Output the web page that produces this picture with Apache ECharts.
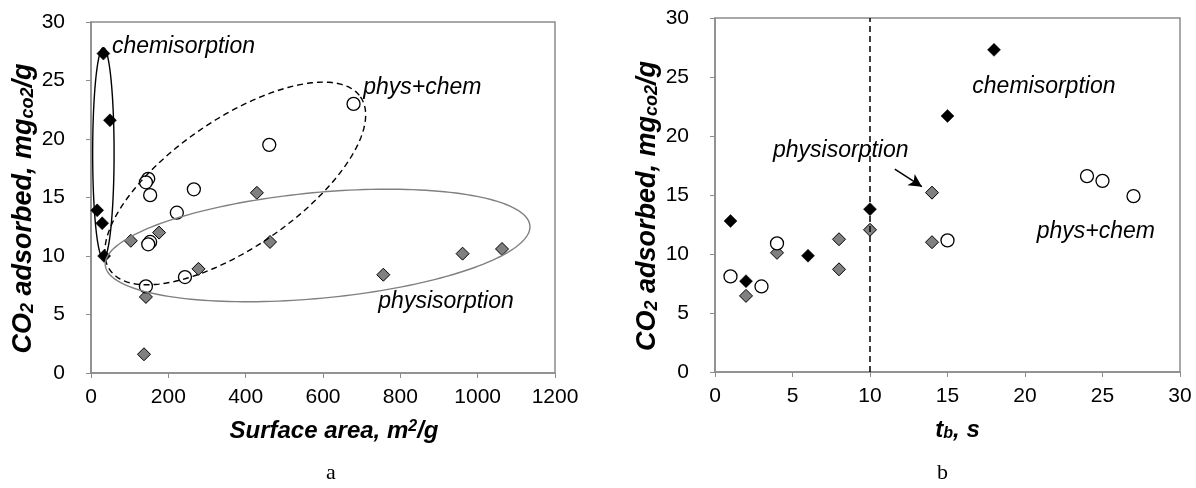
<!DOCTYPE html>
<html>
<head>
<meta charset="utf-8">
<script src="https://cdn.jsdelivr.net/npm/echarts@6/dist/echarts.min.js"></script>
<style>
  html, body { margin: 0; padding: 0; background: #fff; }
  #chart { width: 1196px; height: 488px; }
</style>
</head>
<body>
<div id="chart"></div>
<script>
// ---- Panel a: CO2 adsorbed vs surface area [m2/g, mg/g] ----
const areaChem = [[32, 27.3], [49, 21.6], [16, 13.9], [29, 12.8], [34, 10.0]];
const areaPhys = [[429, 15.4], [176, 12.0], [103, 11.3], [463, 11.2], [278, 8.9], [142, 6.5],
                  [137, 1.6], [756, 8.4], [961, 10.2], [1063, 10.6]];
const areaBoth = [[679, 23.0], [461, 19.5], [148, 16.6], [142, 16.3], [153, 15.2], [266, 15.7],
                  [222, 13.7], [153, 11.2], [148, 11.0], [243, 8.2], [142, 7.4]];

// ---- Panel b: CO2 adsorbed vs breakthrough time [s, mg/g] ----
const timeChem = [[1, 12.8], [2, 7.7], [6, 9.85], [10, 13.8], [15, 21.7], [18, 27.3]];
const timePhys = [[2, 6.45], [4, 10.1], [8, 11.25], [8, 8.7], [10, 12.05], [14, 15.2], [14, 11.0]];
const timeBoth = [[1, 8.1], [3, 7.25], [4, 10.9], [15, 11.15], [24, 16.6], [25, 16.2], [27, 14.9]];

// axis ranges
const yRange = { min: 0, max: 30, interval: 5 };
const areaRange = { min: 0, max: 1200, interval: 200 };
const timeRange = { min: 0, max: 30, interval: 5 };

// grouping outlines on panel a: centre and two conjugate semi-axes, in data units
const groupOutlines = [
  { c: [32, 18.8], u: [27.7, 0], v: [0, 9.0], color: '#000000', dash: null },
  { c: [373, 16.2], u: [324, 7.4], v: [94, -4.5], color: '#000000', dash: [6, 4] },
  { c: [586, 10.9], u: [549, 1.7], v: [13, -4.5], color: '#808080', dash: null }
];

// text labels: [x, y, text] in data units (left edge, vertical middle)
const areaNotes = [[54, 27.9, 'chemisorption'], [704, 24.4, 'phys+chem'], [743, 6.1, 'physisorption']];
const timeNotes = [[16.6, 24.2, 'chemisorption'], [3.74, 18.8, 'physisorption'], [20.75, 11.9, 'phys+chem']];
const arrowFrom = [11.6, 17.2];
const arrowTo = [13.35, 15.7];
const splitTime = 10;

const FONT = 'Liberation Sans, Arial, sans-serif';
const GRAY = '#8c8c8c';

function titleStyle(size) {
  const base = { fontFamily: FONT, fontWeight: 'bold', fontStyle: 'italic', color: '#000' };
  return {
    rich: {
      t: Object.assign({ fontSize: size }, base),
      s: Object.assign({ fontSize: Math.round(size * 0.65), verticalAlign: 'bottom' }, base),
      p: Object.assign({ fontSize: Math.round(size * 0.65), verticalAlign: 'top' }, base)
    }
  };
}

function axisCommon(labelMargin) {
  return {
    type: 'value',
    axisLine: { show: true, onZero: false, lineStyle: { color: GRAY, width: 1.5 } },
    axisTick: { show: true, length: 5, lineStyle: { color: GRAY, width: 1 } },
    splitLine: { show: false },
    axisLabel: {
      fontFamily: FONT, fontSize: 21, color: '#000', margin: labelMargin,
      formatter: v => String(v)
    },
    nameLocation: 'middle'
  };
}

function outlineSeries(outlines) {
  return {
    type: 'custom',
    xAxisIndex: 0, yAxisIndex: 0,
    silent: true, clip: false, z: 5,
    data: outlines.map(o => o.c),
    renderItem: function (params, api) {
      const o = outlines[params.dataIndex];
      const c = api.coord(o.c);
      const pu = api.coord([o.c[0] + o.u[0], o.c[1] + o.u[1]]);
      const pv = api.coord([o.c[0] + o.v[0], o.c[1] + o.v[1]]);
      const a = [pu[0] - c[0], pu[1] - c[1]];
      const b = [pv[0] - c[0], pv[1] - c[1]];
      const pts = [];
      const n = 180;
      for (let i = 0; i < n; i++) {
        const t = i / n * Math.PI * 2;
        pts.push([c[0] + a[0] * Math.cos(t) + b[0] * Math.sin(t),
                  c[1] + a[1] * Math.cos(t) + b[1] * Math.sin(t)]);
      }
      return {
        type: 'polygon',
        shape: { points: pts },
        style: { fill: 'none', stroke: o.color, lineWidth: 1.4, lineDash: o.dash || null }
      };
    }
  };
}

function noteSeries(notes, axisIdx) {
  return {
    type: 'custom',
    xAxisIndex: axisIdx, yAxisIndex: axisIdx,
    silent: true, clip: false, z: 6,
    data: notes.map(n => [n[0], n[1]]),
    renderItem: function (params, api) {
      const n = notes[params.dataIndex];
      const p = api.coord([n[0], n[1]]);
      return {
        type: 'text',
        x: p[0], y: p[1],
        style: {
          text: n[2], fill: '#000',
          font: 'italic 23px ' + FONT,
          textAlign: 'left', textVerticalAlign: 'middle'
        }
      };
    }
  };
}

const chemStyle = { symbol: 'diamond', symbolSize: 13, itemStyle: { color: '#000', borderColor: '#000', borderWidth: 0.5, opacity: 1 } };
const physStyle = { symbol: 'diamond', symbolSize: 13, itemStyle: { color: '#808080', borderColor: '#000', borderWidth: 1, opacity: 1 } };
const bothStyle = { symbol: 'circle', symbolSize: 13, itemStyle: { color: '#fff', borderColor: '#000', borderWidth: 1.3, opacity: 1 } };

function scatter(data, style, idx, extra) {
  return Object.assign({ type: 'scatter', xAxisIndex: idx, yAxisIndex: idx, data: data, z: 4 }, style, extra || {});
}

const yTitle = '{t|CO}{s|2}{t| adsorbed, mg}{s|co2}{t|/g}';

const chart = echarts.init(document.getElementById('chart'), null, { renderer: 'canvas' });

chart.setOption({
  animation: false,
  backgroundColor: '#fff',
  grid: [
    { left: 91, top: 22, width: 464, height: 351, show: true, borderColor: GRAY, borderWidth: 1.5, backgroundColor: 'transparent' },
    { left: 715, top: 18, width: 465, height: 354, show: true, borderColor: GRAY, borderWidth: 1.5, backgroundColor: 'transparent' }
  ],
  xAxis: [
    Object.assign(axisCommon(14), areaRange, {
      gridIndex: 0, name: '{t|Surface area, m}{p|2}{t|/g}', nameGap: 46,
      nameTextStyle: Object.assign(titleStyle(24), { padding: [0, 0, 0, 22] })
    }),
    Object.assign(axisCommon(14), timeRange, {
      gridIndex: 1, name: '{t|t}{s|b}{t|, s}', nameGap: 46,
      nameTextStyle: Object.assign(titleStyle(24), { padding: [0, 0, 0, 20] })
    })
  ],
  yAxis: [
    Object.assign(axisCommon(26), yRange, {
      gridIndex: 0, name: yTitle, nameGap: 54,
      nameTextStyle: Object.assign(titleStyle(27), { padding: [0, 22, 0, 0] })
    }),
    Object.assign(axisCommon(26), yRange, {
      gridIndex: 1, name: yTitle, nameGap: 54,
      nameTextStyle: Object.assign(titleStyle(27), { padding: [0, 22, 0, 0] })
    })
  ],
  graphic: [
    { type: 'text', left: 326, top: 462, style: { text: 'a', font: '22px Liberation Serif, Times New Roman, serif', fill: '#000' } },
    { type: 'text', left: 937, top: 462, style: { text: 'b', font: '22px Liberation Serif, Times New Roman, serif', fill: '#000' } }
  ],
  series: [
    // panel a
    scatter(areaPhys, physStyle, 0),
    scatter(areaChem, chemStyle, 0),
    scatter(areaBoth, bothStyle, 0),
    outlineSeries(groupOutlines),
    noteSeries(areaNotes, 0),
    // panel b
    scatter(timePhys, physStyle, 1, {
      markLine: {
        silent: true, animation: false,
        label: { show: false },
        symbol: ['none', 'arrow'], symbolSize: [10, 13],
        lineStyle: { color: '#000', width: 1.5, type: 'solid' },
        data: [[{ coord: arrowFrom }, { coord: arrowTo }]]
      }
    }),
    scatter(timeChem, chemStyle, 1, {
      markLine: {
        silent: true, animation: false,
        symbol: ['none', 'none'],
        label: { show: false },
        lineStyle: { color: '#000', width: 1.5, type: [6, 4] },
        data: [{ xAxis: splitTime }]
      }
    }),
    scatter(timeBoth, bothStyle, 1),
    noteSeries(timeNotes, 1)
  ]
});
</script>
</body>
</html>
